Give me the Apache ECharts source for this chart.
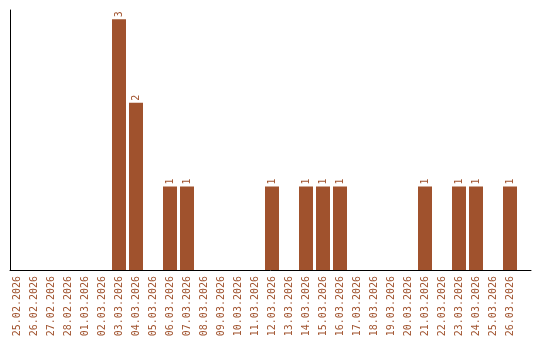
<!DOCTYPE html>
<html>
<head>
<meta charset="utf-8">
<script src="https://cdn.jsdelivr.net/npm/echarts@6/dist/echarts.min.js"></script>
<style>html,body{margin:0;padding:0;background:#fff}#c{width:540px;height:340px}</style>
</head>
<body>
<div id="c"></div>
<script>
var categories = ["25.02.2026","26.02.2026","27.02.2026","28.02.2026","01.03.2026","02.03.2026","03.03.2026","04.03.2026","05.03.2026","06.03.2026","07.03.2026","08.03.2026","09.03.2026","10.03.2026","11.03.2026","12.03.2026","13.03.2026","14.03.2026","15.03.2026","16.03.2026","17.03.2026","18.03.2026","19.03.2026","20.03.2026","21.03.2026","22.03.2026","23.03.2026","24.03.2026","25.03.2026","26.03.2026"];
var values = [0,0,0,0,0,0,3,2,0,1,1,0,0,0,0,1,0,1,1,1,0,0,0,0,1,0,1,1,0,1];

var chart = echarts.init(document.getElementById('c'), null, {renderer:'canvas'});
chart.setOption({
  animation: false,
  grid: [
    {left: 8.5, width: 510, top: 10, bottom: 70, containLabel: false},
    {left: 10, right: 9, top: 10, bottom: 70, containLabel: false}
  ],
  xAxis: [{
    type: 'category', gridIndex: 0,
    data: categories,
    axisLine: {show: false},
    axisTick: {show: false},
    axisLabel: {rotate: 90, color: '#a0522d', fontFamily: 'DejaVu Sans Mono', fontSize: 10, margin: 6, interval: 0}
  }, {
    type: 'category', gridIndex: 1,
    data: categories,
    axisLine: {lineStyle: {color: '#000', width: 1}},
    axisTick: {show: false},
    axisLabel: {show: false}
  }],
  yAxis: [{
    type: 'value', gridIndex: 0, min: 0, max: 3.11,
    axisLine: {show: false}, axisTick: {show: false}, axisLabel: {show: false}, splitLine: {show: false}
  }, {
    type: 'value', gridIndex: 1, min: 0, max: 3.11,
    axisLine: {show: true, lineStyle: {color: '#000', width: 1}},
    axisTick: {show: false}, axisLabel: {show: false}, splitLine: {show: false}
  }],
  series: [{
    type: 'bar',
    xAxisIndex: 0, yAxisIndex: 0,
    data: values,
    barWidth: 14,
    itemStyle: {color: '#a0522d'},
    label: {
      show: true, position: 'top', rotate: 90, align: 'left', verticalAlign: 'middle', distance: 2,
      color: '#a0522d', fontFamily: 'DejaVu Sans Mono', fontSize: 10,
      formatter: function(p){ return p.value ? String(p.value) : ''; }
    }
  }]
});
</script>
</body>
</html>
